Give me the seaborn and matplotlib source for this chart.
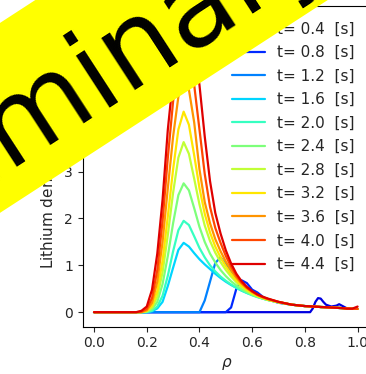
import numpy as np
import pandas as pd
import matplotlib
matplotlib.use('Agg')
import matplotlib.pyplot as plt
from matplotlib.patches import Rectangle
import seaborn as sns

# time slices [s]
times = [0.4, 0.8, 1.2, 1.6, 2.0, 2.4, 2.8, 3.2, 3.6, 4.0, 4.4]

# normalised radius grid
rho = [0.00, 0.10, 0.16, 0.18, 0.20, 0.22, 0.24, 0.26, 0.28, 0.30,
       0.32, 0.34, 0.36, 0.38, 0.40, 0.42, 0.44, 0.46, 0.48, 0.50,
       0.52, 0.54, 0.56, 0.58, 0.60, 0.62, 0.64, 0.66, 0.70,
       0.75, 0.80, 0.82, 0.83, 0.84, 0.85, 0.86, 0.87, 0.88, 0.90,
       0.92, 0.93, 0.94, 0.96, 0.98, 1.00]

# lithium density, rho 0.00 .. 0.70
n_04 = [0.0] * 29
n_08 = [0, 0, 0, 0, 0, 0, 0, 0, 0, 0, 0, 0, 0, 0, 0, 0, 0, 0, 0, 0.0,
        0.10, 0.50, 0.68, 0.62, 0.48, 0.42, 0.33, 0.27, 0.20]
n_12 = [0, 0, 0, 0, 0, 0, 0, 0, 0, 0, 0, 0, 0, 0, 0.0, 0.25, 0.65, 1.05, 1.17, 1.02,
        0.86, 0.71, 0.59, 0.50, 0.42, 0.36, 0.31, 0.27, 0.21]
n_16 = [0, 0, 0, 0, 0.0, 0.02, 0.08, 0.22, 0.56, 0.95, 1.33, 1.48, 1.40, 1.26, 1.13,
        1.02, 0.92, 0.82, 0.73, 0.65, 0.58, 0.52, 0.46, 0.41, 0.37, 0.33, 0.29, 0.26, 0.21]
n_20 = [0, 0, 0, 0, 0.0, 0.03, 0.12, 0.35, 0.78, 1.30, 1.75, 1.95, 1.86, 1.62, 1.37,
        1.17, 1.00, 0.87, 0.76, 0.67, 0.59, 0.52, 0.46, 0.41, 0.36, 0.32, 0.29, 0.26, 0.21]
n_24 = [0, 0, 0, 0, 0.01, 0.06, 0.22, 0.60, 1.20, 1.90, 2.50, 2.75, 2.60, 2.22, 1.82,
        1.50, 1.25, 1.06, 0.90, 0.77, 0.66, 0.57, 0.49, 0.43, 0.37, 0.33, 0.29, 0.26, 0.21]
n_28 = [0, 0, 0, 0, 0.02, 0.10, 0.33, 0.85, 1.65, 2.55, 3.30, 3.63, 3.38, 2.85, 2.30,
        1.85, 1.52, 1.27, 1.07, 0.90, 0.76, 0.64, 0.54, 0.46, 0.39, 0.34, 0.30, 0.26, 0.21]
n_32 = [0, 0, 0, 0, 0.03, 0.14, 0.45, 1.10, 2.05, 3.05, 3.90, 4.28, 4.00, 3.35, 2.65,
        2.10, 1.70, 1.40, 1.17, 0.98, 0.82, 0.68, 0.57, 0.48, 0.41, 0.35, 0.31, 0.27, 0.21]
n_36 = [0, 0, 0, 0, 0.04, 0.20, 0.65, 1.50, 2.65, 3.75, 4.60, 4.98, 4.75, 4.05, 3.05,
        2.35, 1.90, 1.56, 1.30, 1.08, 0.90, 0.74, 0.61, 0.51, 0.43, 0.37, 0.32, 0.28, 0.22]
n_40 = [0, 0, 0, 0.01, 0.07, 0.30, 0.90, 1.95, 3.30, 4.50, 5.35, 5.65, 5.45, 4.85, 3.90,
        2.95, 2.25, 1.80, 1.48, 1.20, 0.97, 0.78, 0.63, 0.52, 0.44, 0.37, 0.32, 0.28, 0.22]
n_44 = [0, 0, 0, 0.03, 0.12, 0.48, 1.25, 2.40, 3.90, 5.00, 5.80, 6.20, 6.15, 5.65, 4.85,
        3.75, 2.80, 2.12, 1.68, 1.32, 1.04, 0.82, 0.66, 0.54, 0.45, 0.38, 0.33, 0.29, 0.22]

# edge region, rho 0.75 .. 1.00
tail_04 = [0.0, 0.0, 0.0, 0.08, 0.22, 0.30, 0.29, 0.22, 0.16, 0.12, 0.14, 0.17, 0.14, 0.08, 0.07, 0.07]
tail_44 = [0.16, 0.13, 0.125, 0.12, 0.118, 0.115, 0.11, 0.108, 0.105, 0.10, 0.094, 0.09, 0.087, 0.075, 0.075, 0.12]
tail_mid = [0.16, 0.13, 0.125, 0.12, 0.118, 0.115, 0.11, 0.108, 0.105, 0.10, 0.094, 0.09, 0.087, 0.08, 0.072, 0.07]

series = [n_04 + tail_04, n_08 + tail_mid, n_12 + tail_mid, n_16 + tail_mid,
          n_20 + tail_mid, n_24 + tail_mid, n_28 + tail_mid, n_32 + tail_mid,
          n_36 + tail_mid, n_40 + tail_mid, n_44 + tail_44]

labels = [f't= {t:.1f}  [s]' for t in times]
frames = []
for lab, vals in zip(labels, series):
    frames.append(pd.DataFrame({'rho': rho, 'n': vals, 'time': lab}))
df = pd.concat(frames, ignore_index=True)

colors = [plt.cm.jet((i + 1) / (len(times) + 1)) for i in range(len(times))]

sns.set_theme(style='ticks')
plt.rcParams['font.family'] = ['DejaVu Sans']

fig = plt.figure(figsize=(3.66, 3.74), dpi=100)
ax = fig.add_axes([0.226, 0.1265, 0.787, 0.858])
sns.lineplot(data=df, x='rho', y='n', hue='time', palette=colors, linewidth=1.6,
             sort=False, ax=ax)
ax.set_xlim(-0.043, 1.05)
ax.set_ylim(-0.31, 6.54)
ax.set_xticks([0.0, 0.2, 0.4, 0.6, 0.8, 1.0])
ax.set_yticks([0, 1, 2, 3, 4, 5, 6])
ax.tick_params(labelsize=10, length=3.5, width=0.8)
for s in ax.spines.values():
    s.set_color('black')
    s.set_linewidth(0.8)
ax.set_xlabel(r'$\rho$', fontsize=11)
ax.set_ylabel(r'Lithium density [$10^{18}$ m$^{-3}$]', fontsize=11)
ax.legend(loc='upper right', frameon=False, fontsize=11, labelspacing=0.56,
          handlelength=2.2, borderaxespad=0.62, title=None)

# "Preliminary" banner (positions in inches from the lower-left corner)
ang = 33.0
fig.patches.append(Rectangle((-3.0, -0.337), 10.0, 1.593, angle=ang,
                             transform=fig.dpi_scale_trans, facecolor='yellow',
                             edgecolor='none', zorder=9))
fig.text(0.708, 2.493, 'Preliminary', fontsize=81, rotation=ang,
         rotation_mode='anchor', ha='center', va='baseline', color='black',
         transform=fig.dpi_scale_trans, zorder=10)

fig.savefig('out.png', dpi=100)
